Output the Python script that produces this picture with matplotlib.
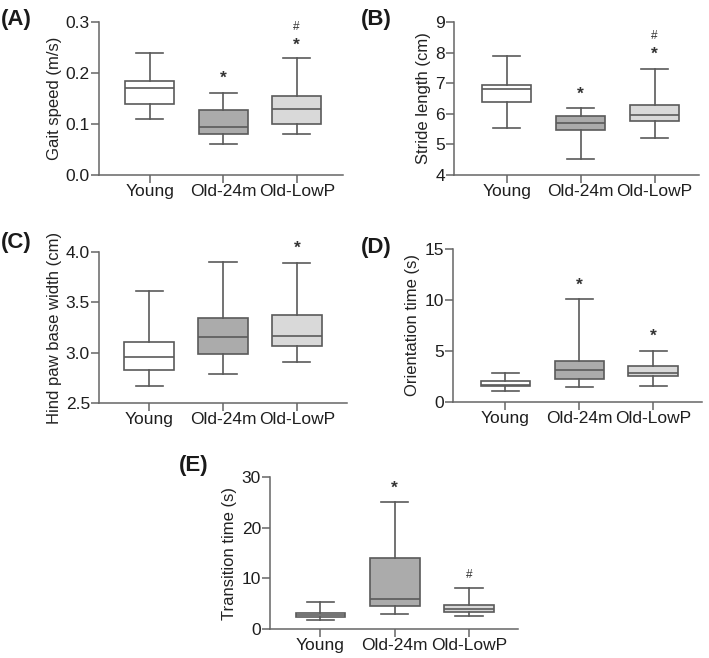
import matplotlib
matplotlib.use("Agg")
import matplotlib.pyplot as plt

plt.rcParams['font.family'] = ['Liberation Sans', 'DejaVu Sans']

groups = ["Young", "Old-24m", "Old-LowP"]
fills = ["#ffffff", "#ababab", "#d9d9d9"]

# per panel: whislo, q1, med, q3, whishi for each group
A_lo = [0.11, 0.06, 0.08]
A_q1 = [0.14, 0.08, 0.10]
A_med = [0.17, 0.095, 0.13]
A_q3 = [0.185, 0.127, 0.155]
A_hi = [0.24, 0.16, 0.23]

B_lo = [5.55, 4.53, 5.2]
B_q1 = [6.4, 5.47, 5.78]
B_med = [6.8, 5.7, 5.97]
B_q3 = [6.95, 5.92, 6.28]
B_hi = [7.88, 6.18, 7.48]

C_lo = [2.67, 2.79, 2.91]
C_q1 = [2.83, 2.99, 3.07]
C_med = [2.96, 3.16, 3.17]
C_q3 = [3.11, 3.34, 3.37]
C_hi = [3.61, 3.90, 3.89]

D_lo = [1.1, 1.45, 1.55]
D_q1 = [1.5, 2.2, 2.5]
D_med = [1.65, 3.1, 2.85]
D_q3 = [2.0, 4.0, 3.5]
D_hi = [2.8, 10.1, 5.0]

E_lo = [1.9, 3.1, 2.6]
E_q1 = [2.5, 4.6, 3.4]
E_med = [2.8, 6.0, 4.0]
E_q3 = [3.2, 14.0, 4.8]
E_hi = [5.4, 25.0, 8.1]

# significance marks: (group index, y, symbol)
A_marks = [(1, 0.19, "*"), (2, 0.255, "*"), (2, 0.29, "#")]
B_marks = [(1, 6.65, "*"), (2, 7.95, "*"), (2, 8.55, "#")]
C_marks = [(2, 4.03, "*")]
D_marks = [(1, 11.5, "*"), (2, 6.4, "*")]
E_marks = [(1, 27.7, "*"), (2, 10.6, "#")]

W, H = 709, 658
fig = plt.figure(figsize=(W / 100, H / 100), dpi=100)

edge = "#5a5a5a"


def make_ax(left, right, top, bottom):
    return fig.add_axes([left / W, 1 - bottom / H, (right - left) / W, (bottom - top) / H])


def panel(ax, lo, q1, med, q3, hi, marks, ylim, yticks, yticklabels, ylabel, xlim):
    stats = []
    for i in range(3):
        stats.append(dict(whislo=lo[i], q1=q1[i], med=med[i], q3=q3[i], whishi=hi[i], fliers=[]))
    bp = ax.bxp(stats, positions=[0, 1, 2], widths=0.67, patch_artist=True,
                showfliers=False, capwidths=0.37,
                boxprops=dict(edgecolor=edge, linewidth=1.2),
                whiskerprops=dict(color=edge, linewidth=1.2),
                capprops=dict(color=edge, linewidth=1.2),
                medianprops=dict(color=edge, linewidth=1.2))
    for patch, c in zip(bp['boxes'], fills):
        patch.set_facecolor(c)
    for gi, y, s in marks:
        if s == "*":
            ax.text(gi, y, s, ha="center", va="center", fontsize=12.5, fontweight="bold", color="#333333")
        else:
            ax.text(gi, y, s, ha="center", va="center", fontsize=8.5, color="#333333")
    ax.set_xlim(*xlim)
    ax.set_ylim(*ylim)
    ax.set_yticks(yticks)
    ax.set_yticklabels(yticklabels)
    ax.set_xticks([0, 1, 2])
    ax.set_xticklabels(groups)
    ax.set_ylabel(ylabel, fontsize=12, color="#222222", labelpad=3)
    for s in ["top", "right"]:
        ax.spines[s].set_visible(False)
    for s in ["left", "bottom"]:
        ax.spines[s].set_color("#666666")
        ax.spines[s].set_linewidth(1.1)
    ax.tick_params(axis="both", direction="out", length=5.5, width=1.1, color="#666666",
                   labelsize=12.5, labelcolor="#1e1e1e", pad=1)


axA = make_ax(99, 343, 22, 175)
panel(axA, A_lo, A_q1, A_med, A_q3, A_hi, A_marks, (0, 0.3), [0, 0.1, 0.2, 0.3],
      ["0.0", "0.1", "0.2", "0.3"], "Gait speed (m/s)", (-0.69, 2.63))

axB = make_ax(454, 699, 22, 175)
panel(axB, B_lo, B_q1, B_med, B_q3, B_hi, B_marks, (4, 9), [4, 5, 6, 7, 8, 9],
      ["4", "5", "6", "7", "8", "9"], "Stride length (cm)", (-0.71, 2.6))

axC = make_ax(99, 347, 251.7, 403.3)
panel(axC, C_lo, C_q1, C_med, C_q3, C_hi, C_marks, (2.5, 4.0), [2.5, 3.0, 3.5, 4.0],
      ["2.5", "3.0", "3.5", "4.0"], "Hind paw base width (cm)", (-0.68, 2.68))

axD = make_ax(453, 702, 249.3, 401.7)
panel(axD, D_lo, D_q1, D_med, D_q3, D_hi, D_marks, (0, 15), [0, 5, 10, 15],
      ["0", "5", "10", "15"], "Orientation time (s)", (-0.71, 2.66))

axE = make_ax(270, 518, 476.7, 629.3)
panel(axE, E_lo, E_q1, E_med, E_q3, E_hi, E_marks, (0, 30), [0, 10, 20, 30],
      ["0", "10", "20", "30"], "Transition time (s)", (-0.68, 2.66))

labels = [("(A)", 1, 20), ("(B)", 361, 20), ("(C)", 1, 243), ("(D)", 361, 247), ("(E)", 179, 466)]
for t, x, y in labels:
    fig.text(x / W, 1 - y / H, t, fontsize=16, fontweight="bold", ha="left", va="center", color="#1a1a1a")

fig.savefig("out.png", dpi=100)
